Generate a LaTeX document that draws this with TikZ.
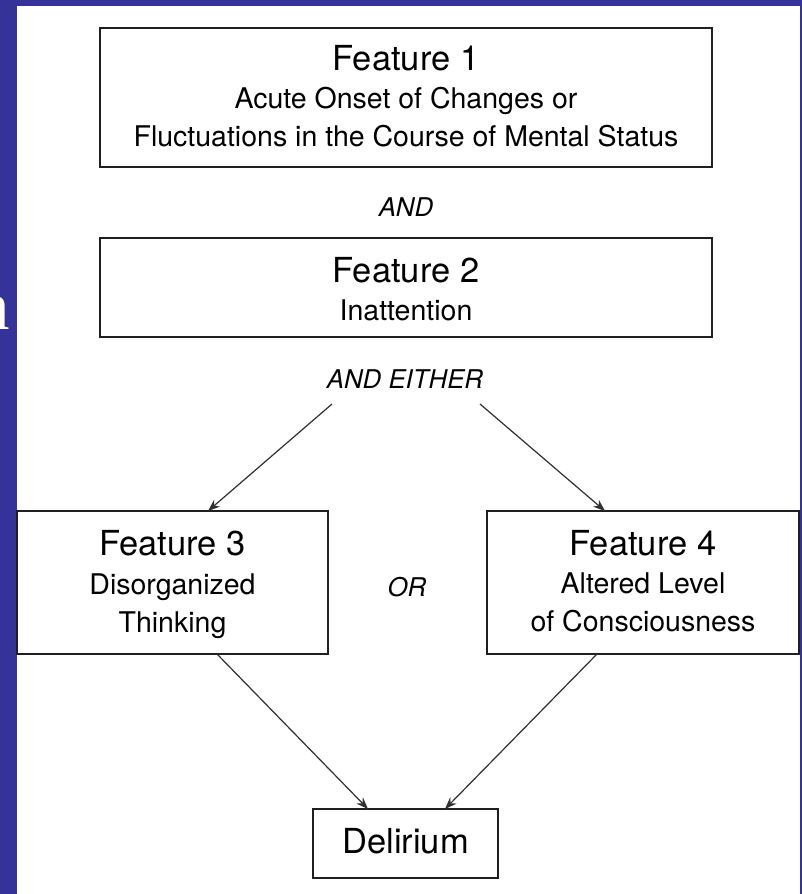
\documentclass[tikz,border=0pt]{standalone}
\usepackage{fontspec}
\setmainfont{TeX Gyre Heros}
\newfontfamily\serifn{Liberation Serif}
\usetikzlibrary{arrows.meta}
\definecolor{slideblue}{HTML}{35339A}
\definecolor{boxline}{HTML}{202020}
\definecolor{arrowcol}{HTML}{303030}
\begin{document}
\begin{tikzpicture}[x=1pt,y=-1pt,
  box/.style={draw=boxline, line width=1.8pt, inner sep=0pt, outer sep=0pt},
  title/.style={font=\fontsize{34.5}{40}\selectfont, inner sep=0pt, anchor=base, text=black},
  body/.style={font=\fontsize{28.5}{34}\selectfont, inner sep=0pt, anchor=base, text=black},
  lbl/.style={font=\itshape\fontsize{25.8}{30}\selectfont, inner sep=0pt, anchor=base, text=black},
  arr/.style={draw=arrowcol, line width=1.2pt, -{Stealth[length=12pt,width=9pt,inset=4pt]}}]
\useasboundingbox (0,0) rectangle (802,894);
% slide background
\fill[slideblue] (0,0) rectangle (802,894);
\fill[white] (17,6) rectangle (800,894);
\node[font=\serifn\fontsize{69}{70}\selectfont, text=white, inner sep=0pt, anchor=base east] (slideN) at (10.5,329) {n};

% boxes
\node[box, minimum width=612pt, minimum height=139pt] (f1) at (406,97.5) {};
\node[box, minimum width=612pt, minimum height=99pt] (f2) at (406,287.5) {};
\node[box, minimum width=311pt, minimum height=143pt] (f3) at (172.5,582.5) {};
\node[box, minimum width=312pt, minimum height=143pt] (f4) at (643,582.5) {};
\node[box, minimum width=185pt, minimum height=69pt] (del) at (405.5,843.5) {};

% texts
\node[title] (f1t) at (406,70) {Feature 1};
\node[body] (f1a) at (406,108) {Acute Onset of Changes or};
\node[body] (f1b) at (406,146) {Fluctuations in the Course of Mental Status};
\node[lbl] (and) at (406,216) {AND};
\node[title] (f2t) at (406,282) {Feature 2};
\node[body] (f2a) at (406,320) {Inattention};
\node[lbl] (either) at (405,388) {AND EITHER};
\node[title] (f3t) at (172.5,555) {Feature 3};
\node[body] (f3a) at (172.5,594) {Disorganized};
\node[body] (f3b) at (172.5,632) {Thinking};
\node[lbl] (or) at (407,596) {OR};
\node[title] (f4t) at (643,555) {Feature 4};
\node[body] (f4a) at (643,593) {Altered Level};
\node[body] (f4b) at (643,631) {of Consciousness};
\node[title] (delt) at (405.5,853) {Delirium};

% connectors
\coordinate (sL) at (332,404);
\coordinate (sR) at (480,404);
\draw[arr] (sL) -- ([xshift=35.5pt]f3.north);
\draw[arr] (sR) -- ([xshift=-38pt]f4.north);
\draw[arr] ([xshift=44.5pt]f3.south) -- ([xshift=-37.5pt]del.north);
\draw[arr] ([xshift=-46pt]f4.south) -- ([xshift=39.5pt]del.north);
\end{tikzpicture}
\end{document}
